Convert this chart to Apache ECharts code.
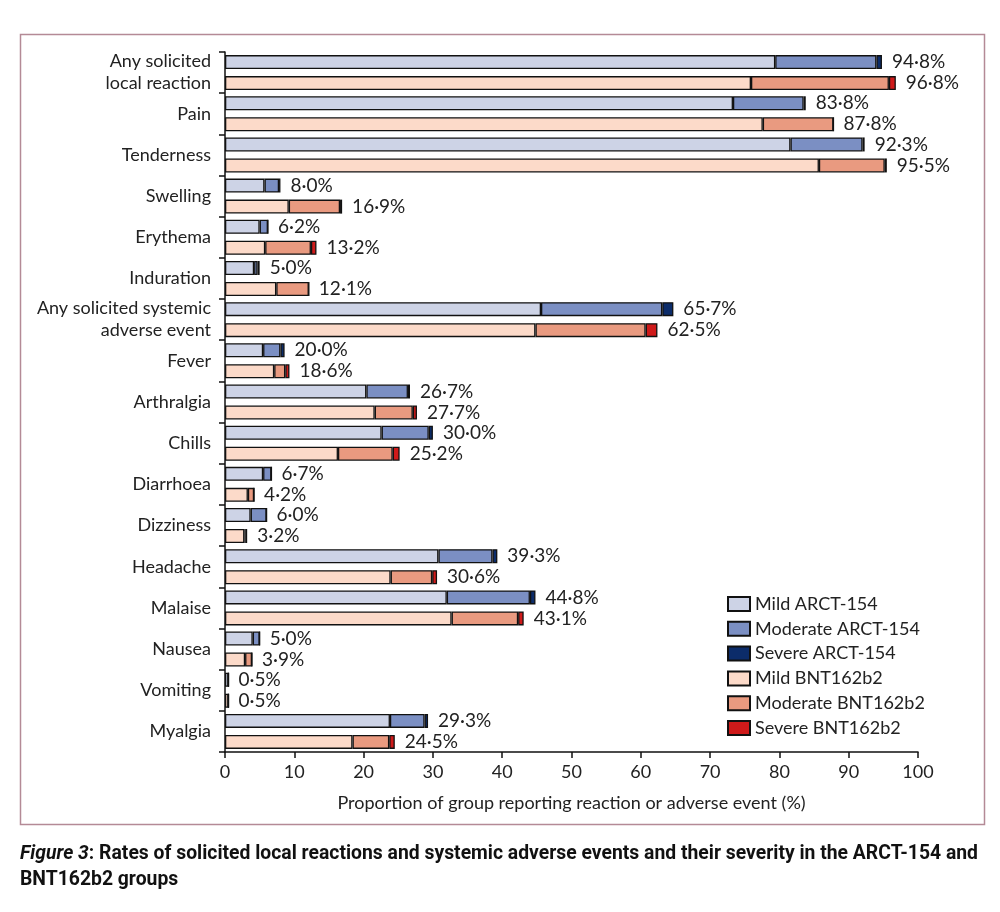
<!DOCTYPE html>
<html>
<head>
<meta charset="utf-8">
<script src="https://cdn.jsdelivr.net/npm/echarts@6/dist/echarts.min.js"></script>
<style>
html,body{margin:0;padding:0;background:#fff;}
#chart{width:1000px;height:912px;}
</style>
</head>
<body>
<div id="chart"></div>
<script>
const categories = ["Any solicited\nlocal reaction","Pain","Tenderness","Swelling","Erythema","Induration","Any solicited systemic\nadverse event","Fever","Arthralgia","Chills","Diarrhoea","Dizziness","Headache","Malaise","Nausea","Vomiting","Myalgia"];
const mildARCT     = [79.4,73.3,81.6,5.7,5.0,4.2,45.6,5.5,20.4,22.6,5.5,3.7,30.8,32.0,4.0,0.5,23.8];
const moderateARCT = [14.6,10.2,10.4,2.1,1.2,0.5,17.5,2.5,6.0,6.8,1.2,2.3,7.8,12.0,1.0,0,5.0];
const severeARCT   = [0.8,0.3,0.3,0.2,0,0.3,1.6,0.6,0.3,0.6,0,0,0.7,0.8,0,0,0.5];
const mildBNT      = [75.9,77.6,85.7,9.2,5.8,7.4,44.8,7.1,21.6,16.3,3.3,2.8,23.9,32.7,2.9,0.5,18.4];
const moderateBNT  = [19.9,10.2,9.5,7.4,6.6,4.7,15.9,1.6,5.5,7.9,0.9,0.2,6.0,9.6,1.0,0,5.3];
const severeBNT    = [1.0,0,0.3,0.3,0.8,0,1.7,0.6,0.6,1.0,0,0.2,0.7,0.8,0,0,0.8];
const labelsARCT = ["94·8%","83·8%","92·3%","8·0%","6·2%","5·0%","65·7%","20·0%","26·7%","30·0%","6·7%","6·0%","39·3%","44·8%","5·0%","0·5%","29·3%"];
const labelsBNT  = ["96·8%","87·8%","95·5%","16·9%","13·2%","12·1%","62·5%","18·6%","27·7%","25·2%","4·2%","3·2%","30·6%","43·1%","3·9%","0·5%","24·5%"];
const xTicks = [0,10,20,30,40,50,60,70,80,90,100];
const captionItalic = 'Figure 3';
const captionLine1 = ': Rates of solicited local reactions and systemic adverse events and their severity in the ARCT-154 and';
const captionLine2 = 'BNT162b2 groups';

const FONT = 'Lato, "Open Sans", sans-serif';
const CAP_FONT = 'Roboto, "Open Sans", sans-serif';
const CAP_SIZE = 20;

// measure caption to compress it horizontally like a condensed face
const mctx = document.createElement('canvas').getContext('2d');
mctx.font = 'italic bold ' + CAP_SIZE + 'px ' + CAP_FONT;
let capW = mctx.measureText(captionItalic).width;
mctx.font = 'bold ' + CAP_SIZE + 'px ' + CAP_FONT;
capW += mctx.measureText(captionLine1).width;
const capScale = 958 / capW;

const chart = echarts.init(document.getElementById('chart'), null, {renderer:'canvas'});

function seg(name, data, stack, color){
  return {name, type:'bar', stack, data, barWidth:14, barGap:'50%',
    itemStyle:{color, borderColor:'#111', borderWidth:1.3}, emphasis:{disabled:true}};
}
function lbl(stack, labels){
  return {name:'lbl'+stack, type:'bar', stack, data:labels.map(()=>0), barWidth:14, barGap:'50%',
    itemStyle:{color:'rgba(0,0,0,0)', borderWidth:0},
    label:{show:true, position:'right', distance:10, color:'#222', fontSize:19, fontFamily:FONT,
      formatter:p=>labels[p.dataIndex]}, emphasis:{disabled:true}};
}

chart.setOption({
  animation:false,
  textStyle:{fontFamily:FONT},
  grid:{left:225, right:82, top:52, bottom:160, containLabel:false},
  legend:{
    data:['Mild ARCT-154','Moderate ARCT-154','Severe ARCT-154','Mild BNT162b2','Moderate BNT162b2','Severe BNT162b2'],
    orient:'vertical', left:727, top:595, padding:0, itemWidth:22, itemHeight:14, itemGap:6.8,
    icon:'rect',
    textStyle:{fontSize:18, color:'#222', fontFamily:FONT}, selectedMode:false
  },
  xAxis:{type:'value', min:0, max:100, interval:10,
    axisLine:{show:true, lineStyle:{color:'#111', width:1.5}},
    axisTick:{show:true, length:6, lineStyle:{color:'#111', width:1.5}},
    splitLine:{show:false},
    axisLabel:{fontSize:18, color:'#222', margin:11, fontFamily:FONT, formatter:v=>xTicks.includes(v)?String(v):''},
    name:'Proportion of group reporting reaction or adverse event (%)',
    nameLocation:'middle', nameGap:42,
    nameTextStyle:{fontSize:18, color:'#222', fontFamily:FONT}
  },
  yAxis:{type:'category', data:categories, inverse:true,
    axisLine:{show:true, lineStyle:{color:'#111', width:1.5}},
    axisTick:{show:true, length:6, lineStyle:{color:'#111', width:1.5}},
    axisLabel:{fontSize:18, color:'#222', margin:14, lineHeight:22, align:'right', fontFamily:FONT}
  },
  graphic:[
    {type:'rect', left:18, top:32, shape:{width:964, height:790}, style:{fill:'none', stroke:'#b48a96', lineWidth:1.5}, silent:true},
    {type:'text', x:20, y:841, scaleX:capScale, style:{
      rich:{i:{fontStyle:'italic', fontWeight:'bold', fontSize:CAP_SIZE, fontFamily:CAP_FONT, fill:'#111'},
            b:{fontWeight:'bold', fontSize:CAP_SIZE, fontFamily:CAP_FONT, fill:'#111'}},
      text:'{i|' + captionItalic + '}{b|' + captionLine1 + '}\n{b|' + captionLine2 + '}',
      lineHeight:26
    }}
  ],
  series:[
    seg('Mild ARCT-154', mildARCT, 'A', '#cdd3e6'),
    seg('Moderate ARCT-154', moderateARCT, 'A', '#7b8fc3'),
    seg('Severe ARCT-154', severeARCT, 'A', '#0c2c6a'),
    lbl('A', labelsARCT),
    seg('Mild BNT162b2', mildBNT, 'B', '#fcdac9'),
    seg('Moderate BNT162b2', moderateBNT, 'B', '#e99a80'),
    seg('Severe BNT162b2', severeBNT, 'B', '#cf1a1a'),
    lbl('B', labelsBNT)
  ]
});
</script>
</body>
</html>
